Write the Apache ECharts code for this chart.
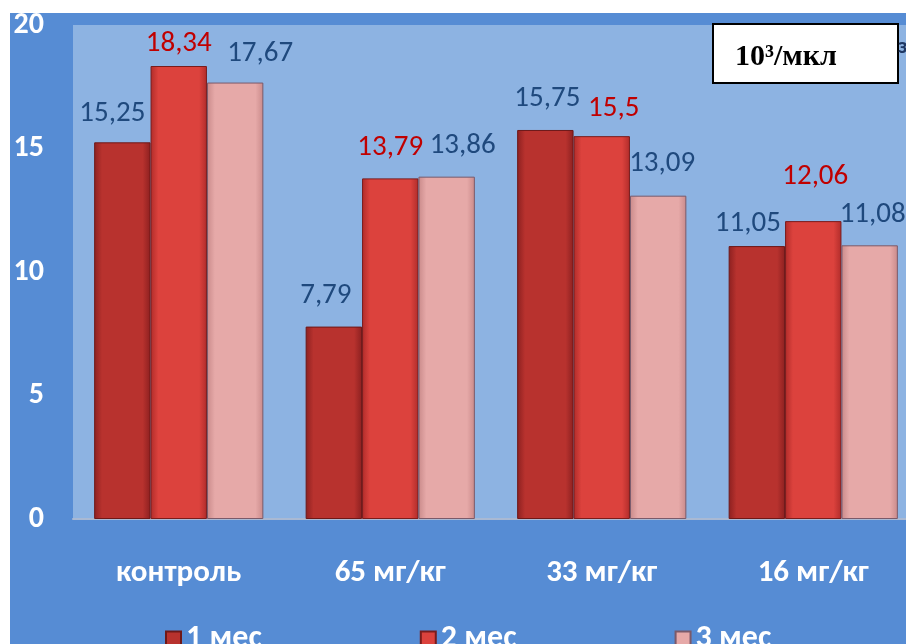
<!DOCTYPE html>
<html>
<head>
<meta charset="utf-8">
<script src="https://cdn.jsdelivr.net/npm/echarts@6/dist/echarts.min.js"></script>
<style>
  html, body { margin: 0; padding: 0; background: #ffffff; overflow: hidden; width: 906px; height: 644px; }
  #chart { width: 919px; height: 644px; }
</style>
</head>
<body>
<div id="chart"></div>
<script>
// Dose groups and monthly measurements (10³/мкл)
var categories = ['контроль', '65 мг/кг', '33 мг/кг', '16 мг/кг'];
var seriesNames = ['1 мес', '2 мес', '3 мес'];
var month1 = [15.25, 7.79, 15.75, 11.05];
var month2 = [18.34, 13.79, 15.5, 12.06];
var month3 = [17.67, 13.86, 13.09, 11.08];
var yTicks = [0, 5, 10, 15, 20];

// Hand-placed value label nudges, per series and category [dx, dy]
var labelShift = [
  [[-10, -14], [-8, -16], [2, -16], [-9, -7]],
  [[0, -7], [0, -16], [12, -12], [2, -29]],
  [[25, -14], [16, -16], [4, -17], [3, -16]]
];

var bodyFont = 'Carlito, "Open Sans", "Noto Sans", sans-serif';

function barFill(mid, edge) {
  return new echarts.graphic.LinearGradient(0, 0, 1, 0, [
    { offset: 0, color: edge },
    { offset: 0.14, color: mid },
    { offset: 0.86, color: mid },
    { offset: 1, color: edge }
  ]);
}

var palette = [
  { fill: barFill('#b8322e', '#8c2020'), border: '#6e1818', label: '#1f497d' },
  { fill: barFill('#dc423d', '#b02c2a'), border: '#7a1c1c', label: '#c00000' },
  { fill: barFill('#e6a9a8', '#c98a8a'), border: '#7a5a6a', label: '#1f497d' }
];

function fmt(v) { return String(v).replace('.', ','); }

function buildSeries(idx, values) {
  return {
    name: seriesNames[idx],
    type: 'bar',
    barGap: '0%',
    barCategoryGap: '20%',
    itemStyle: {
      color: palette[idx].fill,
      borderColor: palette[idx].border,
      borderWidth: 1
    },
    data: values.map(function (v, i) {
      return {
        value: v,
        label: { offset: labelShift[idx][i] }
      };
    }),
    label: {
      show: true,
      position: 'top',
      distance: 0,
      lineHeight: 30,
      fontFamily: bodyFont,
      fontSize: 29,
      color: palette[idx].label,
      formatter: function (p) { return fmt(p.value); }
    }
  };
}

var chart = echarts.init(document.getElementById('chart'), null, { renderer: 'canvas' });

chart.setOption({
  animation: false,
  backgroundColor: '#ffffff',
  graphic: [
    {
      type: 'rect', z: -10, silent: true,
      shape: { x: 10, y: 13, width: 909, height: 631 },
      style: { fill: '#568cd4' }
    },
    {
      type: 'rect', z: 100,
      shape: { x: 713, y: 24, width: 185, height: 59 },
      style: { fill: '#ffffff', stroke: '#000000', lineWidth: 2 }
    },
    {
      type: 'text', z: 101, left: 735, top: 42,
      style: {
        text: '10³/мкл',
        fill: '#000000',
        font: 'bold 30px "Liberation Serif", "Times New Roman", serif'
      }
    },
    {
      type: 'text', z: 101, left: 898, top: 36,
      style: {
        text: 'з',
        fill: '#1f3864',
        font: 'bold 22px ' + bodyFont
      }
    }
  ],
  grid: {
    left: 73, top: 25, right: 0, bottom: 125,
    show: true, backgroundColor: '#8db3e2', borderWidth: 0
  },
  legend: {
    left: 165, top: 623, padding: 0,
    itemGap: 158, itemWidth: 15, itemHeight: 15,
    icon: 'rect',
    textStyle: {
      color: '#ffffff', fontFamily: bodyFont, fontWeight: 'bold',
      fontSize: 32, lineHeight: 32
    },
    data: seriesNames
  },
  xAxis: {
    type: 'category',
    data: categories,
    axisLine: { show: true, lineStyle: { color: '#a9b9d3', width: 2 } },
    axisTick: { show: false },
    axisLabel: {
      color: '#ffffff', fontFamily: bodyFont, fontWeight: 'bold',
      fontSize: 31, margin: 38, lineHeight: 32
    }
  },
  yAxis: {
    type: 'value',
    min: yTicks[0], max: yTicks[yTicks.length - 1], interval: 5,
    splitLine: { show: false },
    axisLine: { show: false },
    axisTick: { show: false },
    axisLabel: {
      color: '#ffffff', fontFamily: bodyFont, fontWeight: 'bold',
      fontSize: 30, margin: 29
    }
  },
  series: [
    buildSeries(0, month1),
    buildSeries(1, month2),
    buildSeries(2, month3)
  ]
});
</script>
</body>
</html>
